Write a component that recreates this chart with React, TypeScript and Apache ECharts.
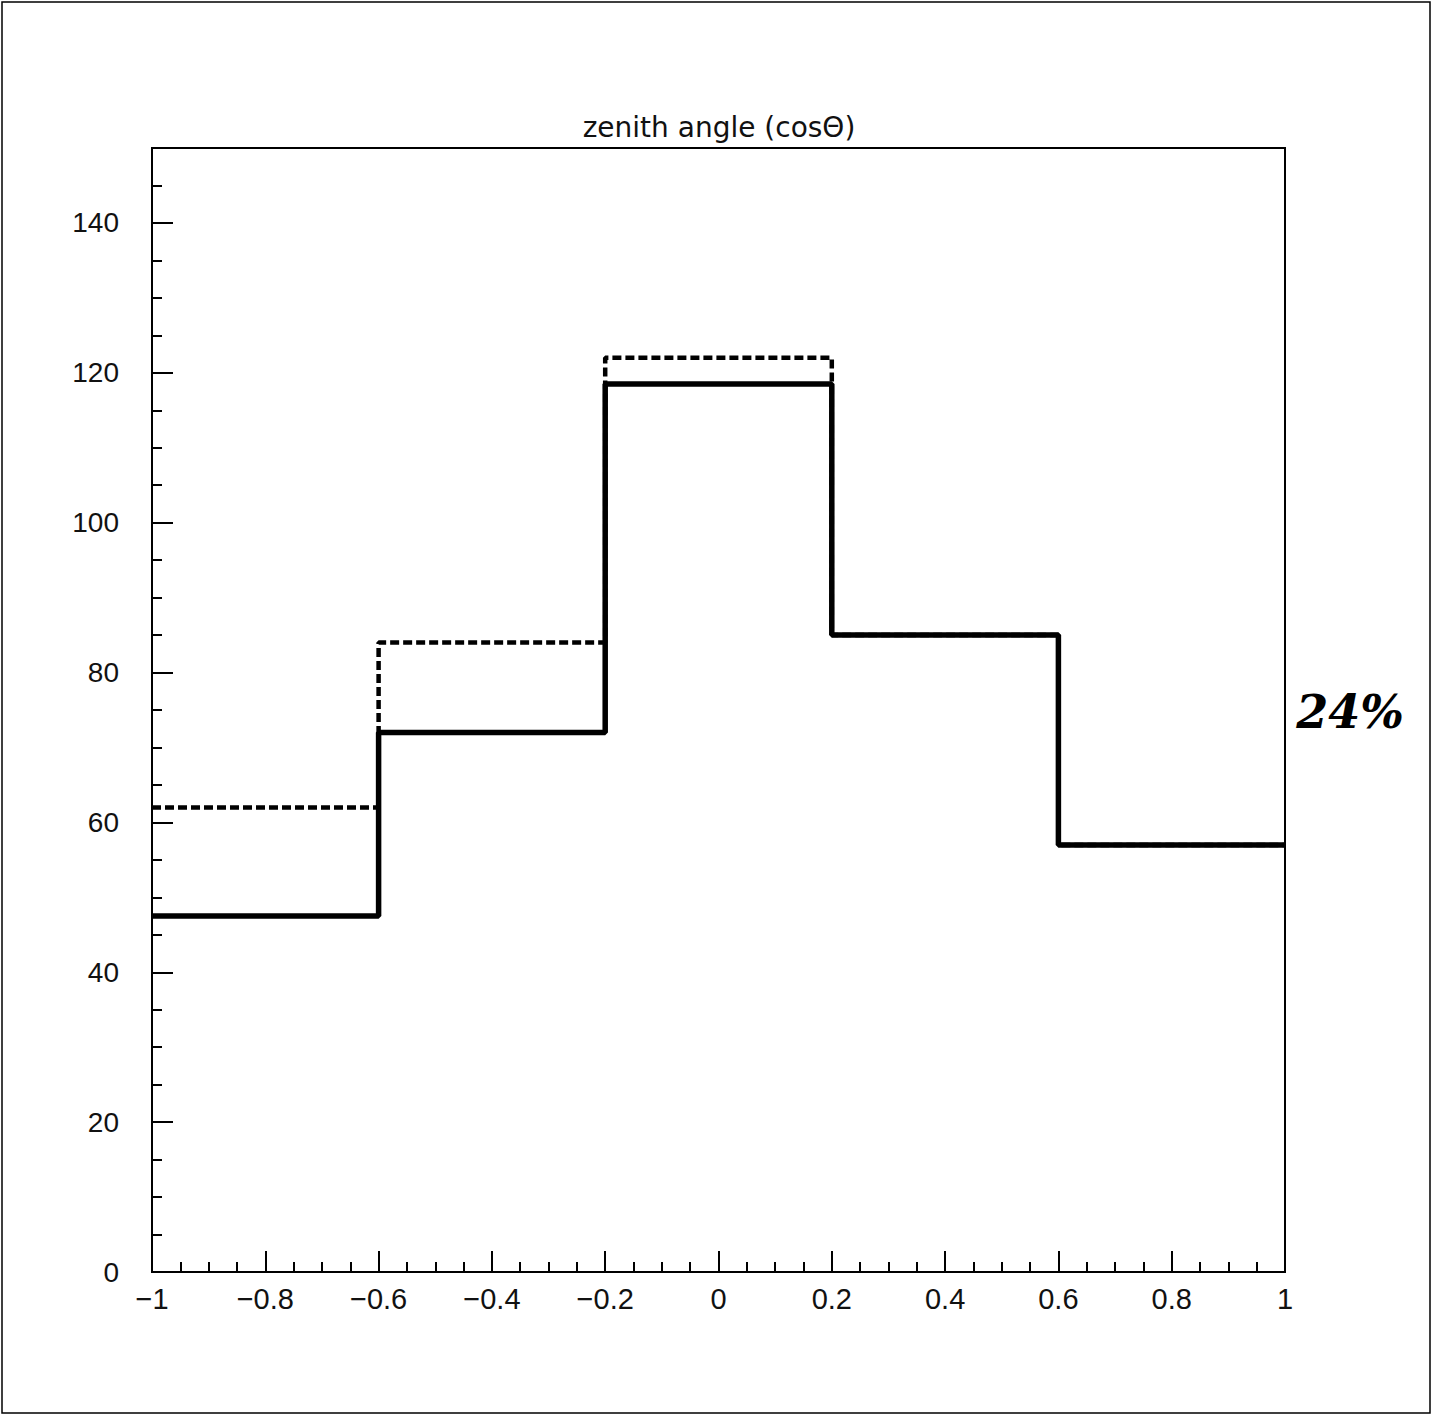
import React, { useEffect, useRef } from "react";
import * as echarts from "echarts";

const binEdges = [-1, -0.6, -0.2, 0.2, 0.6, 1];
const solidCounts = [47.5, 72, 118.5, 85, 57];
const dashedCounts = [62, 84, 122, 85, 57];
const titleText = "zenith angle (cosΘ)";
const noteText = "24%";

function stepPoints(counts: number[]) {
  const pts: number[][] = [];
  counts.forEach((v, i) => {
    pts.push([binEdges[i], v]);
    pts.push([binEdges[i + 1], v]);
  });
  return pts;
}

const FONT = "'Liberation Sans', Arial, sans-serif";

export default function App() {
  const ref = useRef<HTMLDivElement>(null);
  useEffect(() => {
    document.body.style.margin = "0";
    const chart = echarts.init(ref.current!, null, { renderer: "svg" });
    const tickLine = { color: "#000", width: 2 };
    chart.setOption({
      animation: false,
      backgroundColor: "#fff",
      grid: {
        left: 152,
        top: 148,
        width: 1133,
        height: 1124,
        show: true,
        borderColor: "#000",
        borderWidth: 2,
        backgroundColor: "transparent",
      },
      xAxis: [
        {
          type: "value",
          min: -1,
          max: 1,
          interval: 0.2,
          position: "bottom",
          axisLine: { show: true, onZero: false, lineStyle: { color: "#000", width: 2 } },
          axisTick: { show: true, inside: true, length: 21, lineStyle: tickLine },
          axisLabel: {
            margin: 12,
            fontFamily: FONT,
            fontSize: 29,
            color: "#111",
            formatter: (v: number) => String(Math.round(v * 10) / 10).replace("-", "\u2212"),
          },
          splitLine: { show: false },
        },
        {
          type: "value",
          min: -1,
          max: 1,
          interval: 0.05,
          position: "bottom",
          offset: 0,
          axisLine: { show: false, onZero: false },
          axisTick: { show: true, inside: true, length: 10, lineStyle: tickLine },
          axisLabel: { show: false },
          splitLine: { show: false },
        },
      ],
      yAxis: [
        {
          type: "value",
          min: 0,
          max: 150,
          interval: 20,
          position: "left",
          axisLine: { show: true, onZero: false, lineStyle: { color: "#000", width: 2 } },
          axisTick: { show: true, inside: true, length: 21, lineStyle: tickLine },
          axisLabel: {
            margin: 33,
            fontFamily: FONT,
            fontSize: 28,
            color: "#111",
            showMaxLabel: false,
          },
          splitLine: { show: false },
        },
        {
          type: "value",
          min: 0,
          max: 150,
          interval: 5,
          position: "left",
          offset: 0,
          axisLine: { show: false, onZero: false },
          axisTick: { show: true, inside: true, length: 10, lineStyle: tickLine },
          axisLabel: { show: false },
          splitLine: { show: false },
        },
      ],
      series: [
        {
          type: "line",
          data: stepPoints(dashedCounts),
          symbol: "none",
          lineStyle: { color: "#000", width: 4.5, type: [9, 4] },
          xAxisIndex: 0,
          yAxisIndex: 0,
          z: 2,
        },
        {
          type: "line",
          data: stepPoints(solidCounts),
          symbol: "none",
          lineStyle: { color: "#000", width: 5.5 },
          xAxisIndex: 0,
          yAxisIndex: 0,
          z: 3,
        },
      ],
      graphic: [
        {
          type: "rect",
          shape: { x: 2, y: 2, width: 1428, height: 1411 },
          style: { fill: "none", stroke: "#000", lineWidth: 1.5 },
          silent: true,
        },
        {
          type: "text",
          x: 719,
          y: 127,
          style: {
            text: titleText,
            fontFamily: "'DejaVu Sans', sans-serif",
            fontSize: 28,
            fill: "#111",
            textAlign: "center",
            textVerticalAlign: "middle",
          },
        },
        {
          type: "text",
          x: 1350,
          y: 712,
          style: {
            text: noteText,
            fontFamily: "'DejaVu Serif', serif",
            fontSize: 46,
            fontWeight: "bold",
            fontStyle: "italic",
            fill: "#000",
            textAlign: "center",
            textVerticalAlign: "middle",
          },
        },
      ],
    });
    return () => chart.dispose();
  }, []);
  return <div ref={ref} style={{ width: 1436, height: 1416 }} />;
}
